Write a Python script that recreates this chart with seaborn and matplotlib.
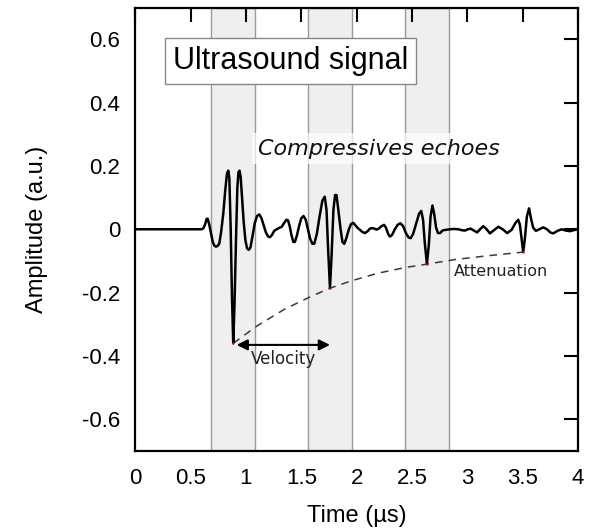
import numpy as np
import pandas as pd
import matplotlib
matplotlib.use("Agg")
import matplotlib.pyplot as plt
from matplotlib.ticker import FuncFormatter
import seaborn as sns

# Recorded ultrasound trace (time in µs, amplitude in a.u.)
time_us = [0.000, 0.600, 0.615, 0.630, 0.645, 0.655, 0.668, 0.685, 0.700, 0.715,
           0.729, 0.745, 0.759, 0.775, 0.795, 0.812, 0.828, 0.840, 0.850, 0.862,
           0.874, 0.885, 0.897, 0.910, 0.922, 0.932, 0.942, 0.952, 0.965, 0.980,
           0.995, 1.010, 1.025, 1.040, 1.060, 1.080, 1.100, 1.120, 1.140, 1.160,
           1.180, 1.200, 1.217, 1.235, 1.255, 1.277, 1.300, 1.323, 1.345, 1.365,
           1.380, 1.395, 1.412, 1.428, 1.442, 1.460, 1.480, 1.500, 1.520, 1.540,
           1.560, 1.580, 1.600, 1.618, 1.640, 1.665, 1.690, 1.712, 1.728, 1.742,
           1.759, 1.774, 1.790, 1.805, 1.818, 1.835, 1.855, 1.872, 1.888, 1.905,
           1.930, 1.950, 1.970, 1.990, 2.010, 2.030, 2.050, 2.075, 2.100, 2.120,
           2.140, 2.160, 2.181, 2.200, 2.225, 2.248, 2.265, 2.285, 2.301, 2.320,
           2.345, 2.370, 2.395, 2.420, 2.445, 2.470, 2.488, 2.510, 2.540, 2.565,
           2.584, 2.600, 2.615, 2.635, 2.652, 2.668, 2.685, 2.700, 2.718, 2.735,
           2.755, 2.775, 2.800, 2.843, 2.880, 2.920, 2.950, 2.980, 3.005, 3.030,
           3.060, 3.089, 3.115, 3.144, 3.175, 3.204, 3.240, 3.280, 3.320, 3.360,
           3.400, 3.435, 3.460, 3.475, 3.490, 3.505, 3.520, 3.538, 3.558, 3.575,
           3.595, 3.620, 3.650, 3.686, 3.720, 3.750, 3.776, 3.815, 3.852, 3.890,
           3.927, 3.960, 4.000]
amplitude = [0.000, 0.000, 0.003, 0.015, 0.033, 0.033, 0.015, -0.015, -0.040, -0.052,
             -0.055, -0.052, -0.045, -0.010, 0.050, 0.120, 0.175, 0.185, 0.160, 0.000,
             -0.220, -0.360, -0.230, -0.030, 0.130, 0.180, 0.185, 0.165, 0.100, 0.020,
             -0.035, -0.060, -0.065, -0.058, -0.020, 0.020, 0.042, 0.047, 0.035, 0.012,
             -0.010, -0.023, -0.025, -0.018, -0.005, 0.000, 0.004, 0.008, 0.020, 0.030,
             0.028, 0.010, -0.020, -0.040, -0.040, -0.020, 0.010, 0.035, 0.042, 0.030,
             0.000, -0.030, -0.046, -0.045, -0.015, 0.040, 0.090, 0.103, 0.060, -0.060,
             -0.186, -0.080, 0.060, 0.108, 0.108, 0.060, 0.000, -0.040, -0.046, -0.030,
             0.000, 0.017, 0.020, 0.012, 0.004, -0.002, -0.008, -0.012, -0.006, 0.002,
             0.004, 0.002, -0.001, 0.002, 0.010, 0.014, 0.005, -0.015, -0.023, -0.018,
             0.000, 0.014, 0.019, 0.010, -0.012, -0.026, -0.028, -0.015, 0.020, 0.050,
             0.058, 0.030, -0.040, -0.110, -0.050, 0.040, 0.075, 0.050, 0.005, -0.012,
             -0.012, -0.004, -0.002, 0.000, 0.001, 0.000, -0.003, -0.004, 0.000, 0.002,
             -0.004, -0.010, 0.000, 0.010, 0.000, -0.013, -0.003, 0.008, 0.000, -0.012,
             -0.002, 0.020, 0.030, 0.015, -0.030, -0.072, -0.030, 0.040, 0.066, 0.035,
             0.005, -0.005, 0.000, 0.006, 0.000, -0.010, -0.013, -0.005, 0.000, -0.004,
             -0.006, -0.003, 0.000]

# Echo minima and the attenuation envelope through them
echo_time = [0.885, 1.759, 2.635, 3.505]
echo_min = [-0.360, -0.186, -0.110, -0.072]
envelope_time = [0.885, 1.10, 1.35, 1.60, 1.759, 1.95, 2.20, 2.45, 2.635, 2.90, 3.20, 3.505]
envelope_amp = [-0.360, -0.305, -0.252, -0.210, -0.186, -0.163, -0.138, -0.120, -0.110, -0.095, -0.083, -0.072]

# Time windows of the compressive echoes
windows = [(0.684, 1.084), (1.557, 1.960), (2.436, 2.834)]

x_ticks = [0, 0.5, 1, 1.5, 2, 2.5, 3, 3.5, 4]
y_ticks = [-0.6, -0.4, -0.2, 0, 0.2, 0.4, 0.6]

sns.set_theme(style="white")
plt.rcParams["font.family"] = ["Liberation Sans", "DejaVu Sans"]

fig = plt.figure(figsize=(6.0, 5.3), dpi=100)
ax = fig.add_axes([0.2255, 0.149, 0.7378, 0.8368])

for t0, t1 in windows:
    ax.axvspan(t0, t1, facecolor="#efefef", edgecolor="#9a9a9a", linewidth=1.0, zorder=0)

signal = pd.DataFrame({"Time": time_us, "Amplitude": amplitude})
sns.lineplot(data=signal, x="Time", y="Amplitude", sort=False, estimator=None,
             color="black", linewidth=1.8, ax=ax, zorder=3)
ax.lines[-1].set_solid_joinstyle("round")

envelope = pd.DataFrame({"Time": envelope_time, "Amplitude": envelope_amp})
sns.lineplot(data=envelope, x="Time", y="Amplitude", sort=False, estimator=None,
             color="#3a3a3a", linewidth=1.1, ax=ax, zorder=2)
ax.lines[-1].set_dashes([5, 4])

ax.scatter(echo_time, echo_min, s=3, color="#cc2222", zorder=4, linewidths=0)

# Velocity: distance between the first two echoes
ax.annotate("", xy=(echo_time[1], -0.365), xytext=(0.916, -0.365),
            arrowprops=dict(arrowstyle="<|-|>", color="black", lw=1.5,
                            mutation_scale=16, shrinkA=0, shrinkB=0), zorder=5)
ax.text(1.337, -0.41, "Velocity", fontsize=12, family="DejaVu Sans",
        ha="center", va="center", color="#222222")
ax.text(3.306, -0.132, "Attenuation", fontsize=11.5, family="DejaVu Sans",
        ha="center", va="center", color="#222222")

ax.text(2.201, 0.254, "Compressives echoes", fontsize=16, family="DejaVu Sans",
        style="italic", ha="center", va="center", color="#111111",
        bbox=dict(boxstyle="square,pad=0.25", facecolor="white", alpha=0.7,
                  edgecolor="none"), zorder=6)
ax.text(1.399, 0.530, "Ultrasound signal", fontsize=22, family="Liberation Sans",
        ha="center", va="center", color="black",
        bbox=dict(boxstyle="square,pad=0.26", facecolor="white",
                  edgecolor="#888888", linewidth=1.0), zorder=6)

ax.set_xlim(0, 4)
ax.set_ylim(-0.7, 0.7)
ax.set_xticks(x_ticks)
ax.set_yticks(y_ticks)
fmt = FuncFormatter(lambda v, pos: f"{v:g}")
ax.xaxis.set_major_formatter(fmt)
ax.yaxis.set_major_formatter(fmt)
ax.tick_params(direction="in", length=10, width=1.5, top=True, right=True,
               labelsize=16, colors="black", pad=11)
ax.tick_params(axis="x", pad=12)
for s in ax.spines.values():
    s.set_visible(True)
    s.set_color("black")
    s.set_linewidth(1.6)

ax.set_xlabel("Time (µs)", fontsize=17, labelpad=12, color="black")
ax.set_ylabel("Amplitude (a.u.)", fontsize=17, labelpad=24, color="black")

fig.savefig("out.png", dpi=100, facecolor="white")
